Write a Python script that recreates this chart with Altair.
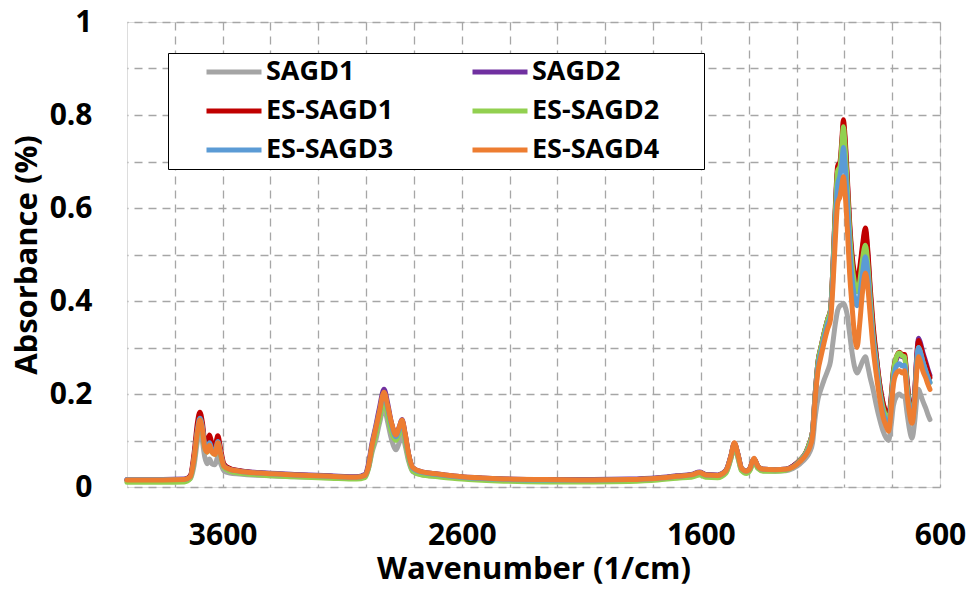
import altair as alt
import pandas as pd

# Wavenumber grid (1/cm)
wavenumber = [4000, 3850, 3760, 3735, 3720, 3705, 3695, 3685, 3675, 3665,
              3655, 3645, 3632, 3620, 3608, 3595, 3570, 3530, 3450, 3300,
              3150, 3040, 3005, 2990, 2975, 2960, 2945, 2925, 2910, 2895,
              2875, 2862, 2850, 2837, 2822, 2805, 2770, 2700, 2600, 2450,
              2250, 2050, 1900, 1780, 1700, 1640, 1605, 1580, 1530, 1495,
              1475, 1460, 1445, 1430, 1410, 1395, 1378, 1362, 1340, 1290,
              1245, 1215, 1185, 1160, 1145, 1133, 1122, 1110, 1098, 1085,
              1070, 1058, 1048, 1038, 1028, 1018, 1010, 1004, 998, 988,
              978, 968, 958, 947, 936, 924, 912, 902, 892, 880,
              866, 852, 838, 825, 815, 805, 795, 782, 770, 758,
              748, 738, 728, 717, 706, 697, 690, 682, 672, 660,
              650, 642]

sagd1 = [0.012, 0.012, 0.013, 0.018, 0.045, 0.100, 0.120, 0.100, 0.065, 0.050,
         0.060, 0.050, 0.048, 0.065, 0.050, 0.035, 0.030, 0.028, 0.025, 0.022,
         0.020, 0.019, 0.022, 0.040, 0.075, 0.100, 0.135, 0.170, 0.140, 0.105,
         0.080, 0.095, 0.115, 0.090, 0.055, 0.033, 0.027, 0.023, 0.019, 0.015,
         0.013, 0.013, 0.014, 0.017, 0.021, 0.024, 0.029, 0.024, 0.023, 0.032,
         0.060, 0.085, 0.063, 0.036, 0.031, 0.037, 0.055, 0.041, 0.035, 0.034,
         0.035, 0.040, 0.050, 0.063, 0.075, 0.095, 0.150, 0.190, 0.210, 0.230,
         0.250, 0.270, 0.310, 0.350, 0.380, 0.390, 0.392, 0.395, 0.390, 0.370,
         0.330, 0.290, 0.260, 0.245, 0.255, 0.270, 0.280, 0.260, 0.235, 0.210,
         0.175, 0.145, 0.120, 0.105, 0.100, 0.130, 0.175, 0.195, 0.200, 0.195,
         0.195, 0.160, 0.125, 0.105, 0.140, 0.190, 0.210, 0.200, 0.185, 0.170,
         0.155, 0.145]

sagd2 = [0.016, 0.016, 0.017, 0.024, 0.062, 0.125, 0.148, 0.130, 0.090, 0.080,
         0.095, 0.080, 0.075, 0.098, 0.072, 0.047, 0.039, 0.035, 0.031, 0.027,
         0.024, 0.022, 0.027, 0.050, 0.095, 0.130, 0.168, 0.210, 0.180, 0.140,
         0.113, 0.128, 0.145, 0.115, 0.070, 0.042, 0.033, 0.028, 0.022, 0.018,
         0.016, 0.016, 0.017, 0.020, 0.024, 0.027, 0.032, 0.027, 0.026, 0.036,
         0.066, 0.094, 0.070, 0.040, 0.034, 0.040, 0.061, 0.045, 0.038, 0.037,
         0.038, 0.045, 0.058, 0.075, 0.095, 0.120, 0.200, 0.270, 0.300, 0.330,
         0.360, 0.380, 0.470, 0.590, 0.680, 0.690, 0.740, 0.780, 0.750, 0.660,
         0.560, 0.490, 0.450, 0.430, 0.460, 0.510, 0.550, 0.500, 0.420, 0.340,
         0.280, 0.220, 0.180, 0.155, 0.145, 0.185, 0.245, 0.275, 0.285, 0.280,
         0.280, 0.230, 0.180, 0.145, 0.200, 0.285, 0.320, 0.310, 0.290, 0.270,
         0.252, 0.240]

es_sagd1 = [0.015, 0.015, 0.016, 0.024, 0.070, 0.140, 0.161, 0.140, 0.100, 0.095,
            0.112, 0.095, 0.090, 0.110, 0.080, 0.050, 0.040, 0.035, 0.030, 0.026,
            0.023, 0.021, 0.025, 0.045, 0.088, 0.122, 0.158, 0.200, 0.172, 0.137,
            0.110, 0.125, 0.140, 0.112, 0.068, 0.040, 0.032, 0.027, 0.021, 0.017,
            0.015, 0.015, 0.016, 0.019, 0.023, 0.026, 0.031, 0.026, 0.025, 0.035,
            0.065, 0.093, 0.070, 0.040, 0.034, 0.040, 0.060, 0.045, 0.038, 0.037,
            0.038, 0.045, 0.058, 0.075, 0.095, 0.120, 0.200, 0.270, 0.300, 0.330,
            0.360, 0.380, 0.470, 0.600, 0.690, 0.700, 0.750, 0.790, 0.760, 0.670,
            0.570, 0.500, 0.460, 0.440, 0.470, 0.520, 0.557, 0.510, 0.430, 0.350,
            0.280, 0.220, 0.180, 0.160, 0.150, 0.190, 0.250, 0.280, 0.290, 0.285,
            0.285, 0.230, 0.180, 0.145, 0.200, 0.280, 0.315, 0.305, 0.285, 0.265,
            0.248, 0.235]

es_sagd2 = [0.010, 0.010, 0.011, 0.018, 0.055, 0.118, 0.140, 0.122, 0.085, 0.075,
            0.090, 0.075, 0.070, 0.094, 0.068, 0.042, 0.034, 0.030, 0.026, 0.022,
            0.019, 0.017, 0.020, 0.040, 0.080, 0.110, 0.145, 0.185, 0.155, 0.120,
            0.100, 0.115, 0.130, 0.100, 0.060, 0.034, 0.026, 0.022, 0.017, 0.013,
            0.011, 0.011, 0.012, 0.015, 0.019, 0.021, 0.026, 0.021, 0.020, 0.030,
            0.060, 0.088, 0.064, 0.035, 0.029, 0.035, 0.055, 0.040, 0.034, 0.034,
            0.036, 0.043, 0.058, 0.075, 0.095, 0.120, 0.200, 0.270, 0.300, 0.330,
            0.360, 0.380, 0.470, 0.590, 0.680, 0.690, 0.740, 0.775, 0.740, 0.650,
            0.550, 0.480, 0.440, 0.420, 0.440, 0.490, 0.520, 0.480, 0.410, 0.330,
            0.270, 0.210, 0.170, 0.150, 0.140, 0.180, 0.245, 0.280, 0.288, 0.282,
            0.280, 0.220, 0.175, 0.140, 0.190, 0.270, 0.300, 0.290, 0.270, 0.250,
            0.235, 0.225]

es_sagd3 = [0.016, 0.016, 0.016, 0.022, 0.060, 0.125, 0.148, 0.130, 0.090, 0.080,
            0.095, 0.080, 0.075, 0.098, 0.072, 0.046, 0.038, 0.034, 0.030, 0.026,
            0.023, 0.021, 0.025, 0.045, 0.090, 0.125, 0.160, 0.200, 0.170, 0.135,
            0.108, 0.124, 0.140, 0.110, 0.068, 0.040, 0.032, 0.027, 0.021, 0.017,
            0.015, 0.015, 0.016, 0.019, 0.023, 0.026, 0.031, 0.026, 0.025, 0.035,
            0.065, 0.093, 0.070, 0.040, 0.034, 0.040, 0.060, 0.045, 0.038, 0.037,
            0.038, 0.044, 0.056, 0.072, 0.088, 0.115, 0.195, 0.260, 0.290, 0.320,
            0.350, 0.370, 0.450, 0.560, 0.650, 0.670, 0.700, 0.730, 0.700, 0.620,
            0.520, 0.450, 0.410, 0.390, 0.410, 0.460, 0.495, 0.460, 0.390, 0.320,
            0.260, 0.200, 0.160, 0.140, 0.130, 0.170, 0.230, 0.260, 0.265, 0.260,
            0.262, 0.210, 0.170, 0.140, 0.190, 0.270, 0.300, 0.290, 0.270, 0.250,
            0.235, 0.225]

es_sagd4 = [0.015, 0.015, 0.016, 0.022, 0.060, 0.120, 0.144, 0.125, 0.085, 0.075,
            0.090, 0.075, 0.070, 0.095, 0.070, 0.045, 0.038, 0.034, 0.030, 0.026,
            0.023, 0.021, 0.025, 0.045, 0.090, 0.125, 0.160, 0.204, 0.175, 0.140,
            0.112, 0.128, 0.144, 0.115, 0.070, 0.042, 0.033, 0.028, 0.022, 0.018,
            0.016, 0.015, 0.016, 0.019, 0.023, 0.026, 0.031, 0.026, 0.025, 0.035,
            0.065, 0.095, 0.070, 0.040, 0.034, 0.040, 0.062, 0.045, 0.038, 0.037,
            0.038, 0.043, 0.055, 0.070, 0.085, 0.110, 0.190, 0.250, 0.280, 0.310,
            0.340, 0.360, 0.430, 0.530, 0.610, 0.625, 0.650, 0.667, 0.640, 0.560,
            0.460, 0.390, 0.330, 0.300, 0.350, 0.420, 0.460, 0.430, 0.370, 0.300,
            0.240, 0.190, 0.150, 0.130, 0.120, 0.160, 0.220, 0.245, 0.250, 0.245,
            0.250, 0.200, 0.160, 0.137, 0.180, 0.250, 0.280, 0.270, 0.250, 0.235,
            0.220, 0.210]

series_names = ["SAGD1", "SAGD2", "ES-SAGD1", "ES-SAGD2", "ES-SAGD3", "ES-SAGD4"]
series_colors = ["#A5A5A5", "#7030A0", "#C00000", "#92D050", "#5B9BD5", "#ED7D31"]
series_values = [sagd1, sagd2, es_sagd1, es_sagd2, es_sagd3, es_sagd4]

x_grid = [600, 800, 1000, 1200, 1400, 1600, 1800, 2000, 2200, 2400, 2600,
          2800, 3000, 3200, 3400, 3600, 3800]
x_labels = ["600", "1600", "2600", "3600"]
y_grid = [0, 0.1, 0.2, 0.3, 0.4, 0.5, 0.6, 0.7, 0.8, 0.9, 1]
y_labels = ["0", "0.2", "0.4", "0.6", "0.8", "1"]

rows = []
for k, (name, vals) in enumerate(zip(series_names, series_values)):
    for w, v in zip(wavenumber, vals):
        rows.append({"series": name, "wn": w, "absorbance": v, "k": k})
df = pd.DataFrame(rows)

FONT = "Open Sans"

lines = alt.Chart(df).mark_line(strokeWidth=5, interpolate="monotone",
                                strokeJoin="round", strokeCap="round").encode(
    x=alt.X("wn:Q",
            scale=alt.Scale(domain=[600, 4000], reverse=True, nice=False, zero=False),
            axis=alt.Axis(values=x_grid,
                          labelExpr="indexof(" + str(x_labels) + ", datum.label) >= 0 ? datum.label : ''",
                          format="d",
                          title="Wavenumber (1/cm)",
                          ticks=False, domain=False,
                          labelPadding=33, titlePadding=4,
                          labelFont=FONT, labelFontSize=30, labelFontWeight="bold",
                          labelColor="black", labelFlush=False, labelOverlap=False,
                          titleFont=FONT, titleFontSize=31, titleFontWeight="bold",
                          titleColor="black",
                          grid=True, gridDash=[8, 6], gridColor="#A6A6A6", gridWidth=1.3)),
    y=alt.Y("absorbance:Q",
            scale=alt.Scale(domain=[0, 1], nice=False, zero=True),
            axis=alt.Axis(values=y_grid,
                          labelExpr="indexof(" + str(y_labels) + ", format(datum.value, '~g')) >= 0 ? format(datum.value, '~g') : ''",
                          title="Absorbance (%)",
                          ticks=False, domain=False,
                          labelPadding=35,
                          labelFont=FONT, labelFontSize=30, labelFontWeight="bold",
                          labelColor="black", labelFlush=False, labelOverlap=False,
                          titleFont=FONT, titleFontSize=31, titleFontWeight="bold",
                          titleColor="black", titleX=-100, titleBaseline="middle",
                          titleAngle=270, titleAlign="center",
                          grid=True, gridDash=[8, 6], gridColor="#A6A6A6", gridWidth=1.3)),
    color=alt.Color("series:N",
                    scale=alt.Scale(domain=series_names, range=series_colors),
                    legend=alt.Legend(orient="none", legendX=41, legendY=31,
                                      direction="horizontal",
                                      columns=2, title=None,
                                      labelExpr="datum.label + '\u00a0\u00a0\u00a0\u00a0\u00a0\u00a0\u200b'",
                                      symbolType="stroke", symbolSize=3025,
                                      symbolStrokeWidth=5, clipHeight=34,
                                      symbolOffset=34, labelOffset=2,
                                      labelLimit=300,
                                      rowPadding=5, columnPadding=-19,
                                      padding=2,
                                      labelFont=FONT, labelFontSize=27,
                                      labelFontWeight="bold", labelColor="black",
                                      strokeColor="black", fillColor="white")),
    order=alt.Order("k:Q"),
)

chart = lines.properties(
    width=813, height=465,
    padding={"left": 127, "top": 22, "right": 37, "bottom": 102},
    autosize=alt.AutoSizeParams(type="none"),
).configure_view(stroke="#A6A6A6", strokeWidth=3).configure(background="white")

chart.save("out.html", embed_options={"renderer": "svg", "actions": False})
